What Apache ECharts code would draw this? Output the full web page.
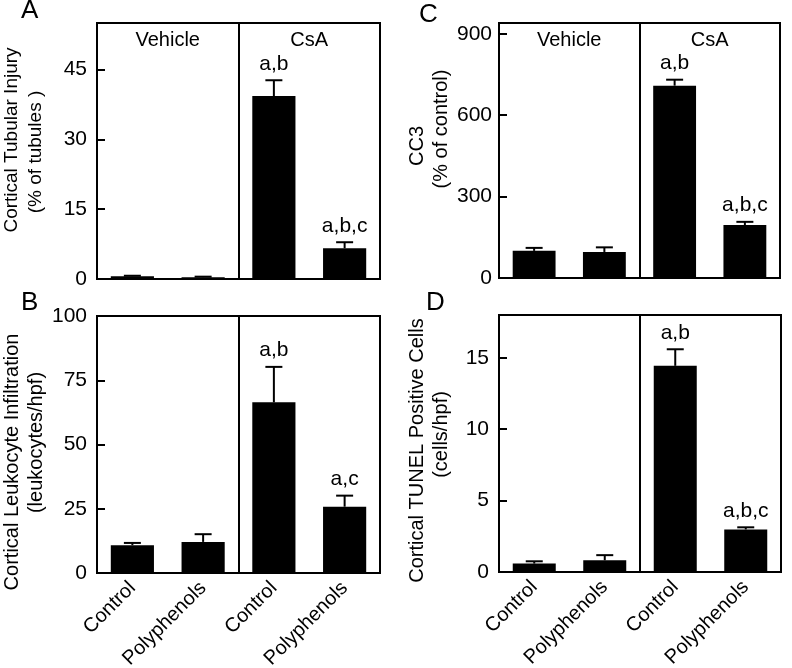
<!DOCTYPE html>
<html>
<head>
<meta charset="utf-8">
<script src="https://cdn.jsdelivr.net/npm/echarts@6/dist/echarts.min.js"></script>
<style>
  html, body { margin: 0; padding: 0; background: #fff; }
  #chart { width: 792px; height: 668px; }
</style>
</head>
<body>
<div id="chart"></div>
<script>
// ---- data ----
const categories = ['Control', 'Polyphenols', 'Control', 'Polyphenols'];
const groups = ['Vehicle', 'CsA'];

// A: cortical tubular injury (% of tubules)
const tubularMean = [0.6, 0.4, 39.3, 6.6];
const tubularErr  = [0.1, 0.1, 3.4, 1.3];
const tubularSig  = ['', '', 'a,b', 'a,b,c'];
const tubularTicks = [0, 15, 30, 45];

// C: CC3 (% of control)
const cc3Mean = [100, 96, 709, 195];
const cc3Err  = [11, 17, 22, 12];
const cc3Sig  = ['', '', 'a,b', 'a,b,c'];
const cc3Ticks = [0, 300, 600, 900];

// B: cortical leukocyte infiltration (leukocytes/hpf)
const leukoMean = [10.8, 12.1, 66.4, 25.8];
const leukoErr  = [0.9, 3.0, 13.8, 4.3];
const leukoSig  = ['', '', 'a,b', 'a,c'];
const leukoTicks = [0, 25, 50, 75, 100];

// D: cortical TUNEL positive cells (cells/hpf)
const tunelMean = [0.59, 0.82, 14.44, 2.98];
const tunelErr  = [0.16, 0.36, 1.16, 0.15];
const tunelSig  = ['', '', 'a,b', 'a,b,c'];
const tunelTicks = [0, 5, 10, 15];

const FONT = '"Liberation Sans", Arial, Helvetica, sans-serif';

const panels = [
  { letter: 'A', mean: tubularMean, err: tubularErr, sig: tubularSig, ticks: tubularTicks, max: 55,
    grid: { left: 97, top: 23, width: 283, height: 256 }, top: true, titleSize: 19,
    title1: 'Cortical Tubular Injury', title2: '(% of tubules )', pad1: [0,0,0,22], pad2: [0,2,0,0],
    nameGap: 49, labelMargin: 10, letterPos: { left: 21, top: -2 } },
  { letter: 'C', mean: cc3Mean, err: cc3Err, sig: cc3Sig, ticks: cc3Ticks, max: 940,
    grid: { left: 499, top: 23, width: 281, height: 255 }, top: true, titleSize: 20,
    title1: 'CC3', title2: '(% of control)', pad1: [0,0,0,9], pad2: [0,0,0,43],
    nameGap: 38, labelMargin: 7, letterPos: { left: 419, top: 2 } },
  { letter: 'B', mean: leukoMean, err: leukoErr, sig: leukoSig, ticks: leukoTicks, max: 100,
    grid: { left: 97, top: 316, width: 283, height: 257 }, top: false, titleSize: 20,
    title1: 'Cortical Leukocyte Infiltration', title2: '(leukocytes/hpf)', pad1: [0,35,0,0], pad2: [0,0,0,4],
    nameGap: 47, labelMargin: 10, letterPos: { left: 21, top: 290 } },
  { letter: 'D', mean: tunelMean, err: tunelErr, sig: tunelSig, ticks: tunelTicks, max: 18,
    grid: { left: 499, top: 315, width: 282, height: 257 }, top: false, titleSize: 20,
    title1: 'Cortical TUNEL Positive Cells', title2: '(cells/hpf)', pad1: [0,14,0,0], pad2: [0,0,0,18],
    nameGap: 46, labelMargin: 10, letterPos: { left: 426, top: 290 } }
];

const grid = [], xAxis = [], yAxis = [], series = [], title = [];

panels.forEach((p, i) => {
  grid.push(Object.assign({ show: true, borderColor: '#000', borderWidth: 2, backgroundColor: 'transparent',
    containLabel: false, outerBoundsMode: 'none' }, p.grid));
  title.push(Object.assign({ text: p.letter, padding: 0,
    textStyle: { fontSize: 26, fontWeight: 'normal', color: '#000', fontFamily: FONT } }, p.letterPos));
  yAxis.push({
    type: 'value', gridIndex: i, min: 0, max: p.max,
    axisLine: { show: false },
    splitLine: { show: false },
    axisTick: { show: true, inside: true, length: 8, customValues: p.ticks, lineStyle: { color: '#000', width: 2 } },
    axisLabel: { customValues: p.ticks, fontSize: 21, color: '#000', margin: p.labelMargin, fontFamily: FONT },
    name: '{l1|' + p.title1 + '}\n{l2|' + p.title2 + '}',
    nameLocation: 'middle', nameRotate: 90, nameGap: p.nameGap,
    nameTextStyle: { fontSize: p.titleSize, color: '#000', fontFamily: FONT, lineHeight: 24,
      rich: { l1: { fontSize: p.titleSize, lineHeight: 24, padding: p.pad1, fontFamily: FONT, color: '#000' },
              l2: { fontSize: p.titleSize, lineHeight: 24, padding: p.pad2, fontFamily: FONT, color: '#000' } } }
  });
});

// category axes (0..3)
panels.forEach((p, i) => {
  xAxis.push({
    type: 'category', gridIndex: i, data: categories, position: 'bottom',
    axisLine: { show: false }, axisTick: { show: false }, splitLine: { show: false },
    axisLabel: { show: !p.top, rotate: 45, fontSize: 20, color: '#000', margin: 12, fontFamily: FONT, interval: 0 }
  });
});
// group axes (4..7): divider line + Vehicle / CsA headers
panels.forEach((p, i) => {
  xAxis.push({
    type: 'category', gridIndex: i, data: groups, position: 'top',
    axisLine: { show: false }, axisTick: { show: false },
    splitLine: { show: true, lineStyle: { color: '#000', width: 2 } },
    axisLabel: { show: p.top, inside: true, fontSize: 20, color: '#000', margin: 7, fontFamily: FONT, interval: 0 }
  });
});

panels.forEach((p, i) => {
  series.push({
    type: 'bar', xAxisIndex: i, yAxisIndex: i, data: p.mean, barWidth: '61%',
    itemStyle: { color: '#000' }, silent: true, animation: false
  });
  series.push({
    type: 'custom', xAxisIndex: i, yAxisIndex: i, animation: false, silent: true,
    data: p.mean.map((m, k) => [k, m, p.err[k]]),
    encode: { x: 0, y: 1 },
    renderItem: function (params, api) {
      const idx = api.value(0), m = api.value(1), e = api.value(2);
      const base = api.coord([idx, m]);
      const topPt = api.coord([idx, m + e]);
      const half = 8.5;
      const children = [
        { type: 'line', shape: { x1: base[0], y1: base[1], x2: topPt[0], y2: topPt[1] },
          style: { stroke: '#000', lineWidth: 2 } },
        { type: 'line', shape: { x1: topPt[0] - half, y1: topPt[1], x2: topPt[0] + half, y2: topPt[1] },
          style: { stroke: '#000', lineWidth: 2 } }
      ];
      const s = p.sig[params.dataIndex];
      if (s) {
        children.push({ type: 'text', x: topPt[0], y: topPt[1] - 6,
          style: { text: s, fill: '#000', font: '21px ' + FONT, align: 'center', verticalAlign: 'bottom' } });
      }
      return { type: 'group', children: children };
    }
  });
});

const chart = echarts.init(document.getElementById('chart'), null, { renderer: 'canvas' });
chart.setOption({
  animation: false,
  backgroundColor: '#fff',
  textStyle: { fontFamily: FONT, color: '#000' },
  title: title, grid: grid, xAxis: xAxis, yAxis: yAxis, series: series
});
</script>
</body>
</html>
